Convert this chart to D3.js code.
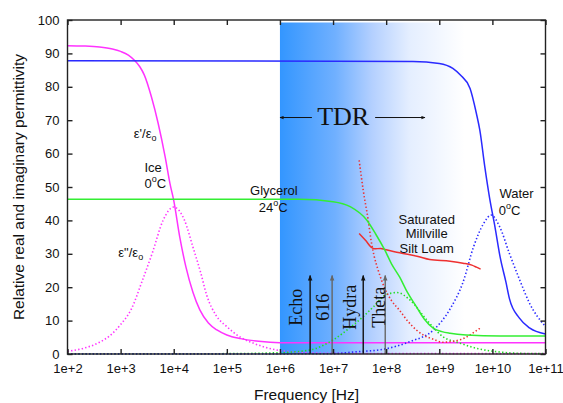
<!DOCTYPE html>
<html>
<head>
<meta charset="utf-8">
<script src="https://cdn.jsdelivr.net/npm/d3@7"></script>
<style>
  body { margin: 0; background: #fff; }
  text { font-family: "Liberation Sans", Arial, sans-serif; fill: #111; }
  .serif { font-family: "Liberation Serif", "Times New Roman", serif; }
</style>
</head>
<body>
<svg id="chart" width="563" height="403"></svg>
<script>
// ---- axis ticks ----
const xTicks = [1e2, 1e3, 1e4, 1e5, 1e6, 1e7, 1e8, 1e9, 1e10, 1e11];
const xTickLabels = ['1e+2', '1e+3', '1e+4', '1e+5', '1e+6', '1e+7', '1e+8', '1e+9', '1e+10', '1e+11'];
const yTicks = [0, 10, 20, 30, 40, 50, 60, 70, 80, 90, 100];

// ---- curves, [frequency Hz, permittivity] ----
const iceReal = [[1e2, 92.3], [2e2, 92.2], [4e2, 91.9], [7e2, 91.3], [1e3, 90.6], [1.4e3, 89.5],
  [1.8e3, 88], [2.3e3, 86], [2.8e3, 83.5], [3.8e3, 77], [5.1e3, 69], [6.9e3, 59], [8.5e3, 51],
  [1e4, 46], [1.3e4, 35], [1.7e4, 26], [2.3e4, 18.5], [3.1e4, 13.2], [4.5e4, 9.3], [6.5e4, 7.2],
  [1e5, 5.7], [1.8e5, 4.6], [4e5, 3.8], [1e6, 3.4], [1e7, 3.35], [1e11, 3.35]];
const iceImag = [[1e2, 0.8], [2e2, 1.7], [4e2, 3.5], [6.3e2, 5.5], [1e3, 8.8], [1.6e3, 13.5],
  [2.5e3, 21.5], [4e3, 30.5], [6.3e3, 40], [1e4, 44], [1.6e4, 40], [2.3e4, 32], [3.2e4, 24.5],
  [4.2e4, 17.5], [6.3e4, 11.5], [1e5, 8.2], [1.8e5, 5], [3.2e5, 3.2], [8.7e5, 1.2], [3.2e6, 0.4],
  [1e7, 0.2], [1e11, 0.1]];
const waterReal = [[1e2, 87.8], [3.2e8, 87.6], [1e9, 87], [1.8e9, 85.5], [2.5e9, 83.5], [3.8e9, 79.5],
  [5e9, 72], [5.8e9, 67], [7.2e9, 56], [8.9e9, 46.5], [1.12e10, 38], [1.4e10, 29], [1.8e10, 21.5],
  [2.1e10, 16.5], [3.2e10, 10.8], [5e10, 7.8], [1e11, 6]];
const waterImag = [[1e2, 0.05], [1e6, 0.05], [1e7, 0.1], [2.4e7, 0.6], [8.7e7, 1.4], [2.8e8, 3.7],
  [7.8e8, 7.2], [1.6e9, 13.5], [2.8e9, 21.5], [4.4e9, 32], [6.8e9, 39], [9.5e9, 41.6],
  [1.38e10, 38], [2.1e10, 30], [3.3e10, 22], [5e10, 15.2], [1e11, 8.2]];
const glycerolReal = [[1e2, 46.3], [2.3e6, 46.3], [1e7, 45.6], [2.1e7, 44.1], [4.3e7, 40.1],
  [6.3e7, 36], [9.5e7, 31], [1.26e8, 27], [1.8e8, 23], [2.5e8, 18.5], [3.7e8, 14.2], [5.2e8, 10.5],
  [7.8e8, 7.7], [1.12e9, 6.7], [1.6e9, 6.2], [3.2e9, 5.7], [1.4e10, 5.4], [1e11, 5.4]];
const glycerolImag = [[1e2, 0.05], [1e5, 0.1], [1e6, 0.4], [3.7e6, 1.2], [1e7, 4.2], [2.4e7, 8.7],
  [3.7e7, 11.2], [5.8e7, 14.2], [1e8, 17.8], [1.6e8, 18.4], [2.8e8, 16.2], [5.8e8, 10.2],
  [1.17e9, 5.2], [2.5e9, 3.2], [5e9, 1.7], [1.2e10, 0.7], [3.2e10, 0.2], [1e11, 0.1]];
const soilReal = [[3.1e7, 36.1], [4.2e7, 33.8], [5.2e7, 32], [6e7, 31.5], [7.9e7, 31.6], [9.5e7, 31.3],
  [1.8e8, 30.3], [4e8, 29.2], [6.6e8, 28.3], [1.6e9, 27.8], [2.8e9, 27.2], [4.1e9, 26.6],
  [5e9, 26], [6e9, 25.4]];
const soilImag = [[3.1e7, 58], [3.7e7, 49], [4.6e7, 40], [5.2e7, 34], [5.9e7, 29.5], [7.1e7, 25],
  [9.5e7, 19.5], [1.26e8, 16], [1.8e8, 13], [2.5e8, 10], [3.7e8, 7.2], [5.2e8, 5.5], [7.8e8, 4.4],
  [1.17e9, 3.5], [1.6e9, 3.7], [2.5e9, 4.3], [3.2e9, 5], [4.5e9, 6.5], [5.8e9, 7.7]];

// ---- TDR probes ----
const probeNames = ['Echo', '616', 'Hydra', 'Theta'];
const probeFreqs = [3.7e6, 9.6e6, 3.7e7, 9.6e7];
const probeTop = 23.5;
const tdrRange = [1e6, 5.4e8];

const margin = {top: 20, right: 17.5, bottom: 49, left: 67.5};
const width = 563, height = 403;
const svg = d3.select('#chart');

let x = d3.scaleLog().domain([1e2, 1e11]).range([margin.left, width - margin.right]);
let y = d3.scaleLinear().domain([0, 100]).range([height - margin.bottom, margin.top]);

let defs = svg.append('defs');

// TDR band gradient
let grad = defs.append('linearGradient').attr('id', 'tdr')
  .attr('gradientUnits', 'userSpaceOnUse')
  .attr('x1', x(1e6)).attr('x2', x(3e9)).attr('y1', 0).attr('y2', 0);
[[0, '#3396ff'], [0.3, '#70b0ff'], [0.5, '#b4d0ff'], [0.7, '#e4eeff'], [1, '#ffffff']]
  .forEach(s => grad.append('stop').attr('offset', s[0]).attr('stop-color', s[1]));

svg.append('rect')
  .attr('x', x(1e6)).attr('y', margin.top + 2.5)
  .attr('width', x(1e11) - x(1e6)).attr('height', y(0) - margin.top - 2.5)
  .attr('fill', 'url(#tdr)');

// arrow heads
['#111', '#666'].forEach((c, i) => {
  defs.append('marker').attr('id', 'head' + i)
    .attr('viewBox', '0 0 10 10').attr('refX', 9).attr('refY', 5)
    .attr('markerWidth', 4).attr('markerHeight', 4).attr('orient', 'auto-start-reverse')
    .append('path').attr('d', 'M0,1L10,5L0,9Z').attr('fill', c);
});

let line = d3.line().x(d => x(d[0])).y(d => y(d[1])).curve(d3.curveMonotoneX);

let series = [
  {data: iceReal, color: '#ff33ff', dotted: false},
  {data: iceImag, color: '#ff33ff', dotted: true},
  {data: glycerolImag, color: '#22dd22', dotted: true},
  {data: waterImag, color: '#2a2aff', dotted: true},
  {data: soilImag, color: '#ee3030', dotted: true},
  {data: soilReal, color: '#ee3030', dotted: false},
  {data: glycerolReal, color: '#33ee33', dotted: false},
  {data: waterReal, color: '#2a2aff', dotted: false}
];

svg.append('g').selectAll('path').data(series).enter()
  .append('path')
  .attr('d', d => line(d.data))
  .attr('fill', 'none')
  .attr('stroke', d => d.color)
  .attr('stroke-width', d => d.dotted ? 1.6 : 1.5)
  .attr('stroke-dasharray', d => d.dotted ? '1.4,2.2' : null);

// probe arrows
let labelShift = [-8, -3, -7, 0];
let probes = svg.append('g').selectAll('g').data(probeNames).enter().append('g');
probes.append('line')
  .attr('x1', (d, i) => x(probeFreqs[i])).attr('x2', (d, i) => x(probeFreqs[i]))
  .attr('y1', y(0)).attr('y2', y(probeTop))
  .attr('stroke', (d, i) => i % 2 ? '#666' : '#111').attr('stroke-width', 1.4)
  .attr('marker-end', (d, i) => 'url(#head' + (i % 2) + ')');
probes.append('text')
  .attr('class', 'serif')
  .attr('transform', (d, i) => `translate(${x(probeFreqs[i]) + labelShift[i]},${y(14)}) rotate(-90)`)
  .attr('text-anchor', 'middle')
  .style('font-size', '18px')
  .text(d => d);

// TDR label
svg.append('text').attr('class', 'serif')
  .attr('x', x(1.55e7)).attr('y', y(68.6))
  .attr('text-anchor', 'middle').style('font-size', '26px')
  .text('TDR');
svg.append('line')
  .attr('x1', x(4e6)).attr('x2', x(tdrRange[0])).attr('y1', y(70.8)).attr('y2', y(70.8))
  .attr('stroke', '#111').attr('stroke-width', 1).attr('marker-end', 'url(#head0)');
svg.append('line')
  .attr('x1', x(6.2e7)).attr('x2', x(tdrRange[1])).attr('y1', y(70.8)).attr('y2', y(70.8))
  .attr('stroke', '#111').attr('stroke-width', 1).attr('marker-end', 'url(#head0)');

// annotations
function label(f, v, parts) {
  let t = svg.append('text').attr('x', x(f)).attr('y', y(v))
    .attr('text-anchor', 'middle').style('font-size', '13px');
  parts.forEach(p => {
    let s = t.append('tspan').text(p[0]);
    if (p[1]) s.attr('dy', p[1]).style('font-size', '9px');
    if (p[2]) s.attr('dy', p[2]);
  });
}
label(2.9e3, 64.7, [["ε'/ε"], ['o', 3], ['', -3]]);
label(4.1e3, 54.6, [['Ice']]);
label(4.5e3, 49.6, [['0'], ['o', -6], ['C', null, 6]]);
label(1.55e3, 29.1, [['ε"/ε'], ['o', 3], ['', -3]]);
label(7.7e5, 47.6, [['Glycerol']]);
label(7.5e5, 42.6, [['24'], ['o', -6], ['C', null, 6]]);
label(2.85e10, 46.6, [['Water']]);
label(2.1e10, 41.6, [['0'], ['o', -6], ['C', null, 6]]);
label(5.8e8, 38.9, [['Saturated']]);
label(5.8e8, 34.6, [['Millville']]);
label(5.8e8, 30.3, [['Silt Loam']]);

// frame and ticks
let frame = svg.append('g');
frame.append('rect')
  .attr('x', x(1e2)).attr('y', y(100))
  .attr('width', x(1e11) - x(1e2)).attr('height', y(0) - y(100))
  .attr('fill', 'none').attr('stroke', '#222').attr('stroke-width', 1.4);

let xb = d3.axisBottom(x).tickValues(xTicks).tickSize(-5).tickPadding(10)
  .tickFormat((d, i) => xTickLabels[i]);
let xt = d3.axisTop(x).tickValues(xTicks).tickSize(-5).tickFormat('');
let yl = d3.axisLeft(y).tickValues(yTicks).tickSize(-5).tickPadding(8);
let yr = d3.axisRight(y).tickValues(yTicks).tickSize(-5).tickFormat('');

frame.append('g').attr('transform', `translate(0,${y(0)})`).call(xb);
frame.append('g').attr('transform', `translate(0,${y(100)})`).call(xt);
frame.append('g').attr('transform', `translate(${x(1e2)},0)`).call(yl);
frame.append('g').attr('transform', `translate(${x(1e11)},0)`).call(yr);
frame.selectAll('.domain').remove();
frame.selectAll('.tick line').attr('stroke', '#222').attr('stroke-width', 1.4);
frame.selectAll('.tick text').style('font-size', '13px')
  .style('font-family', '"Liberation Sans", Arial, sans-serif').attr('fill', '#111');

svg.append('text')
  .attr('x', (x(1e2) + x(1e11)) / 2).attr('y', 400)
  .attr('text-anchor', 'middle').style('font-size', '15.5px')
  .text('Frequency [Hz]');
svg.append('text')
  .attr('transform', `translate(24,${(y(0) + y(100)) / 2}) rotate(-90)`)
  .attr('text-anchor', 'middle').style('font-size', '15.5px')
  .text('Relative real and imaginary permittivity');
</script>
</body>
</html>
